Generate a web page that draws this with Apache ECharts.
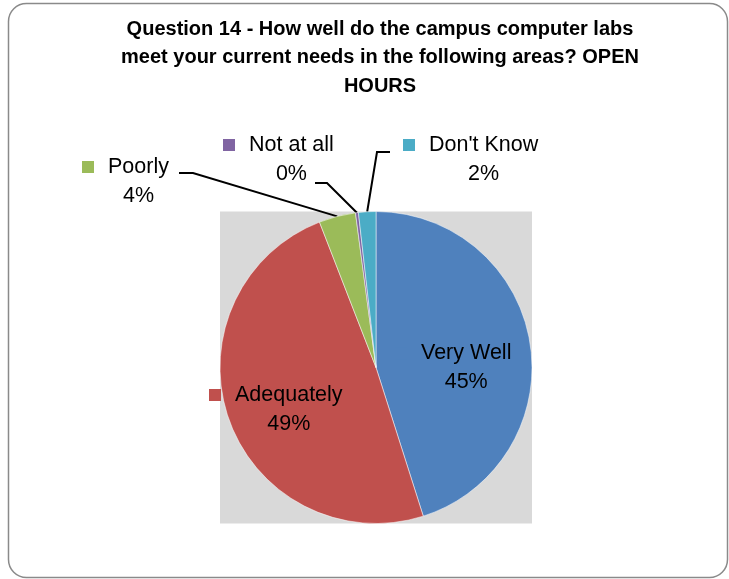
<!DOCTYPE html>
<html><head><meta charset="utf-8">
<script src="https://cdn.jsdelivr.net/npm/echarts@6/dist/echarts.min.js"></script>
<style>html,body{margin:0;padding:0;background:#fff}#c{width:729px;height:579px}</style>
</head><body><div id="c"></div>
<script>
const categories = ['Very Well', 'Adequately', 'Poorly', 'Not at all', "Don't Know"];
const values = [45.1, 49.0, 3.8, 0.3, 1.8];
const colors = ['#4F81BD', '#C0504D', '#9BBB59', '#8064A2', '#4BACC6'];
const titleText = 'Question 14 - How well do the campus computer labs\nmeet your current needs in the following areas? OPEN\nHOURS';

// layout only (not data): pie geometry, label block top-left, leader end [x, y, elbowX]
const pieCenter = [376, 367.5];
const pieRadius = 156;
const labelPos = [[395, 339], [209, 380.5], [82, 152.5], [223, 130.5], [403, 130.5]];
const leaderEnd = [null, null, [179, 173, 193], [315, 183, 327], [390, 152, 377]];
const insideIdx = [0, 1];

const FONT = '"Liberation Sans", Arial, sans-serif';
const LH = 29;
const rich = {
  gap: { width: 14, height: 12, align: 'left', lineHeight: LH },
  sp: { width: 12, height: 12, align: 'left', lineHeight: LH },
  t: { fontSize: 21.5, fontFamily: FONT, color: '#000', align: 'center', lineHeight: LH }
};
colors.forEach((c, i) => {
  rich['sq' + i] = { width: 12, height: 12, backgroundColor: c, align: 'left', lineHeight: LH };
});

const data = categories.map((n, i) => ({
  name: n,
  value: values[i],
  itemStyle: { color: colors[i] },
  label: { position: insideIdx.includes(i) ? 'inside' : 'outside' },
  labelLine: { show: !insideIdx.includes(i) }
}));

const chart = echarts.init(document.getElementById('c'), null, { renderer: 'canvas' });
chart.setOption({
  animation: false,
  backgroundColor: '#fff',
  title: {
    text: titleText, left: 375, top: 10, textAlign: 'center',
    textStyle: { fontFamily: FONT, fontWeight: 'bold', fontSize: 20, lineHeight: 28.5, color: '#000' }
  },
  graphic: [
    { type: 'rect', z: -10, silent: true,
      shape: { x: pieCenter[0] - pieRadius, y: pieCenter[1] - pieRadius, width: pieRadius * 2, height: pieRadius * 2 },
      style: { fill: '#D9D9D9' } },
    { type: 'rect', z: 100, silent: true,
      shape: { x: 8.5, y: 3.5, width: 719, height: 574, r: 18 },
      style: { fill: null, stroke: '#8a8a8a', lineWidth: 1.5 } }
  ],
  series: [{
    type: 'pie',
    center: pieCenter,
    radius: pieRadius,
    startAngle: 90,
    clockwise: true,
    avoidLabelOverlap: false,
    silent: true,
    itemStyle: { borderColor: '#fff', borderWidth: 0.5 },
    label: {
      show: true,
      fontSize: 21.5, fontFamily: FONT, color: '#000', lineHeight: LH,
      textBorderWidth: 0,
      formatter: p => `{sq${p.dataIndex}|}{gap|}{t|${p.name}}\n{sp|}{gap|}{t|${Math.round(p.percent)}%}`,
      rich: rich
    },
    labelLine: { show: true, length: 10, length2: 10, lineStyle: { color: '#000', width: 2 } },
    labelLayout: p => {
      const i = p.dataIndex;
      const pos = labelPos[i];
      const out = { x: pos[0], y: pos[1], align: 'left', verticalAlign: 'top' };
      const le = leaderEnd[i];
      if (le && p.labelLinePoints && p.labelLinePoints[0]) {
        out.labelLinePoints = [p.labelLinePoints[0], [le[2], le[1]], [le[0], le[1]]];
      }
      return out;
    },
    data: data
  }]
});
</script>
</body></html>
